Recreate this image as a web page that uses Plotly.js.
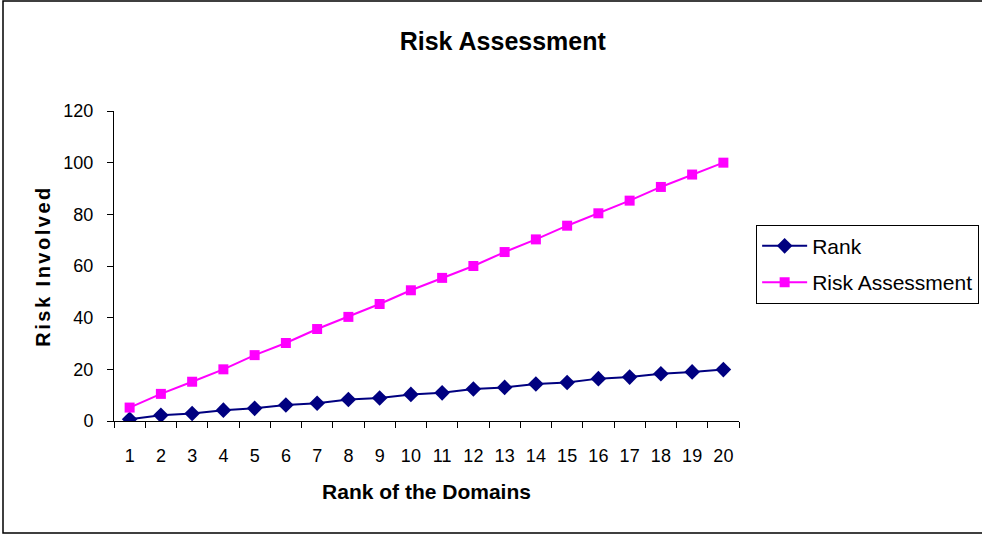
<!DOCTYPE html>
<html>
<head>
<meta charset="utf-8">
<script src="https://cdn.plot.ly/plotly-3.0.1.min.js"></script>
<style>
html,body{margin:0;padding:0;background:#fff;}
#chart{width:982px;height:535px;}
.g-ytitle text{letter-spacing:2.5px;}
</style>
</head>
<body>
<div id="chart"></div>
<script>
const categories = ['1','2','3','4','5','6','7','8','9','10','11','12','13','14','15','16','17','18','19','20'];
const rankValues = [0.7, 2.2, 2.9, 4.2, 4.9, 6.2, 6.9, 8.3, 8.9, 10.3, 10.9, 12.4, 13.0, 14.3, 14.9, 16.4, 17.0, 18.3, 19.0, 19.9];
const riskValues = [5.2, 10.5, 15.2, 20.0, 25.5, 30.2, 35.6, 40.3, 45.3, 50.6, 55.4, 60.0, 65.4, 70.3, 75.6, 80.4, 85.3, 90.6, 95.4, 100.0];
const yTicks = [0, 20, 40, 60, 80, 100, 120];

const FONT = 'Liberation Sans, Arial, sans-serif';

const traces = [
  {
    x: categories, y: rankValues, name: 'Rank', type: 'scatter', mode: 'lines+markers',
    legendgroup: 'a',
    line: {color: '#000080', width: 2},
    marker: {symbol: 'diamond', size: 12, color: '#000080'}
  },
  {
    x: categories, y: riskValues, name: 'Risk Assessment', type: 'scatter', mode: 'lines+markers',
    legendgroup: 'b',
    line: {color: '#FF00FF', width: 2},
    marker: {symbol: 'square', size: 10, color: '#FF00FF'}
  }
];

const layout = {
  width: 982, height: 535,
  margin: {l: 114, r: 243, t: 111, b: 114},
  paper_bgcolor: '#fff', plot_bgcolor: '#fff',
  font: {family: FONT, size: 18, color: '#000'},
  showlegend: true,
  title: {
    text: '<b>Risk Assessment</b>',
    font: {family: FONT, size: 25, color: '#000'},
    xref: 'container', yref: 'container', x: 0.512, y: 0.923, xanchor: 'center', yanchor: 'middle'
  },
  xaxis: {
    type: 'category', range: [-0.5, 19.5],
    showgrid: false, zeroline: false,
    showline: true, linecolor: '#000', linewidth: 1,
    ticks: 'outside', tickson: 'boundaries', ticklen: 6, tickcolor: '#000',
    tickfont: {family: FONT, size: 18},
    ticklabelstandoff: 18,
    title: {text: '<b>Rank of the Domains</b>', font: {family: FONT, size: 21}, standoff: 19}
  },
  yaxis: {
    range: [0, 120], tickvals: yTicks,
    showgrid: false, zeroline: false,
    showline: true, linecolor: '#000', linewidth: 1,
    ticks: 'outside', ticklen: 6, tickcolor: '#000',
    tickfont: {family: FONT, size: 18},
    ticklabelstandoff: 10,
    title: {text: '<b>Risk Involved</b>', font: {family: FONT, size: 20}, standoff: 7}
  },
  legend: {
    xref: 'container', yref: 'container',
    x: 0.77, y: 0.58, xanchor: 'left', yanchor: 'top',
    bgcolor: '#fff', bordercolor: '#000', borderwidth: 1,
    font: {family: FONT, size: 21},
    itemwidth: 45,
    entrywidth: 240,
    traceorder: 'grouped', tracegroupgap: 6
  },
  shapes: [{
    type: 'rect', xref: 'paper', yref: 'paper',
    x0: -0.1776, x1: 1.42, y0: -0.3613, y1: 1.3548,
    line: {color: '#000', width: 1.5}, fillcolor: 'rgba(0,0,0,0)'
  }]
};

Plotly.newPlot('chart', traces, layout, {displayModeBar: false, staticPlot: true});
</script>
</body>
</html>
